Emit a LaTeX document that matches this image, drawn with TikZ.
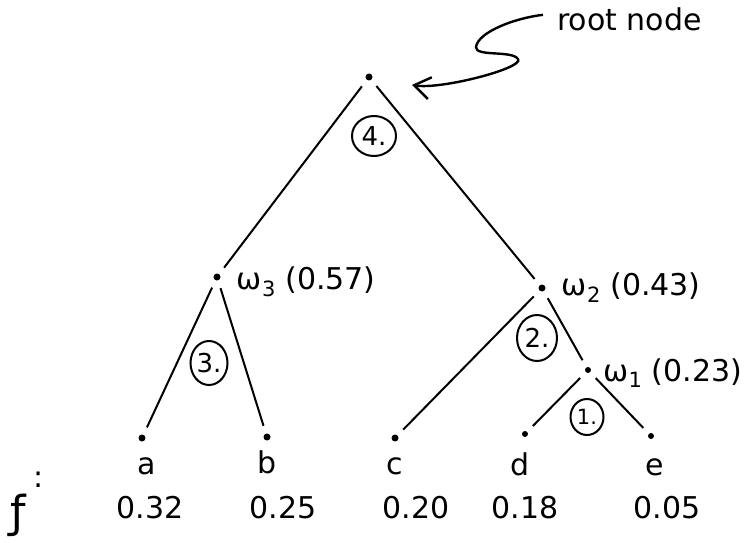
\documentclass[tikz,border=0pt]{standalone}
\usepackage{fontspec}
\setmainfont{DejaVu Sans}
\usetikzlibrary{positioning,arrows.meta,shapes.geometric}

\begin{document}
\begin{tikzpicture}[x=1pt, y=-1pt, node distance=16pt,
  dot/.style={circle, fill, inner sep=0pt, minimum size=7pt},
  branch/.style={line width=2pt, shorten <=8pt, shorten >=8pt},
  stepno/.style={draw, ellipse, line width=2pt, inner sep=0pt, font=\fontsize{26}{28}\selectfont},
  big/.style={font=\fontsize{30}{34}\selectfont, inner sep=0pt}]
  \useasboundingbox (0,0) rectangle (747,543);

  % tree nodes
  \node[dot] (root) at (369,77) {};
  \node[dot] (w3) at (217,277) {};
  \node[dot] (w2) at (542,288) {};
  \node[dot, minimum size=6pt] (w1) at (588,370) {};
  \node[dot] (a) at (142,438) {};
  \node[dot] (b) at (267,437) {};
  \node[dot] (c) at (395,438) {};
  \node[dot, minimum size=6pt] (d) at (525,434) {};
  \node[dot, minimum size=6pt] (e) at (651,436) {};

  \draw[branch] (root) -- (w3);
  \draw[branch] (root) -- (w2);
  \draw[branch] (w3) -- (a);
  \draw[branch] (w3) -- (b);
  \draw[branch] (w2) -- (c);
  \draw[branch] (w2) -- (w1);
  \draw[branch] (w1) -- (d);
  \draw[branch] (w1) -- (e);

  % merged weights
  \node[big, right=16pt of w3, anchor=base west, yshift=-12pt] (w3lab) {ω\textsubscript{3} (0.57)};
  \node[big, right=16pt of w2, anchor=base west, yshift=-7pt] (w2lab) {ω\textsubscript{2} (0.43)};
  \node[big, right=12pt of w1, anchor=base west, yshift=-11pt] (w1lab) {ω\textsubscript{1} (0.23)};

  % merge order
  \node[stepno, minimum width=44pt, minimum height=40pt] (s4) at (374,136) {4.};
  \node[stepno, minimum width=37pt, minimum height=44pt] (s3) at (209,363) {3.};
  \node[stepno, minimum width=40pt, minimum height=46pt] (s2) at (537,338) {2.};
  \node[stepno, minimum width=33pt, minimum height=36pt, font=\fontsize{21}{23}\selectfont] (s1) at (587,417) {1.};

  % leaves and frequencies
  \node[big, below=33pt of a, anchor=base, xshift=5pt] (la) {a};
  \node[big, below=33pt of b, anchor=base] (lb) {b};
  \node[big, below=33pt of c, anchor=base] (lc) {c};
  \node[big, below=38pt of d, anchor=base, xshift=-5pt] (ld) {d};
  \node[big, below=36pt of e, anchor=base, xshift=4pt] (le) {e};

  \node[big, anchor=base] (fa) at (150,518) {0.32};
  \node[big, anchor=base] (fb) at (283,518) {0.25};
  \node[big, anchor=base] (fc) at (416,518) {0.20};
  \node[big, anchor=base] (fd) at (525,518) {0.18};
  \node[big, anchor=base] (fe) at (667,518) {0.05};
  \node[big, anchor=base west] (flab) at (10,527) {{\fontsize{44}{48}\selectfont ƒ}\hspace{8pt}\raisebox{40pt}{:}};

  % root annotation
  \node[big, anchor=base west] (note) at (557,31) {root node};
  \draw[line width=2.4pt, -{Straight Barb[length=16pt, width=22pt]}, shorten >=40pt]
    ([shift={(-14pt,5pt)}]note.west) .. controls (515,18) and (478,32) .. (476,47)
    .. controls (475,57) and (512,50) .. (518,59)
    .. controls (525,68) and (440,90) .. (root);
\end{tikzpicture}
\end{document}
